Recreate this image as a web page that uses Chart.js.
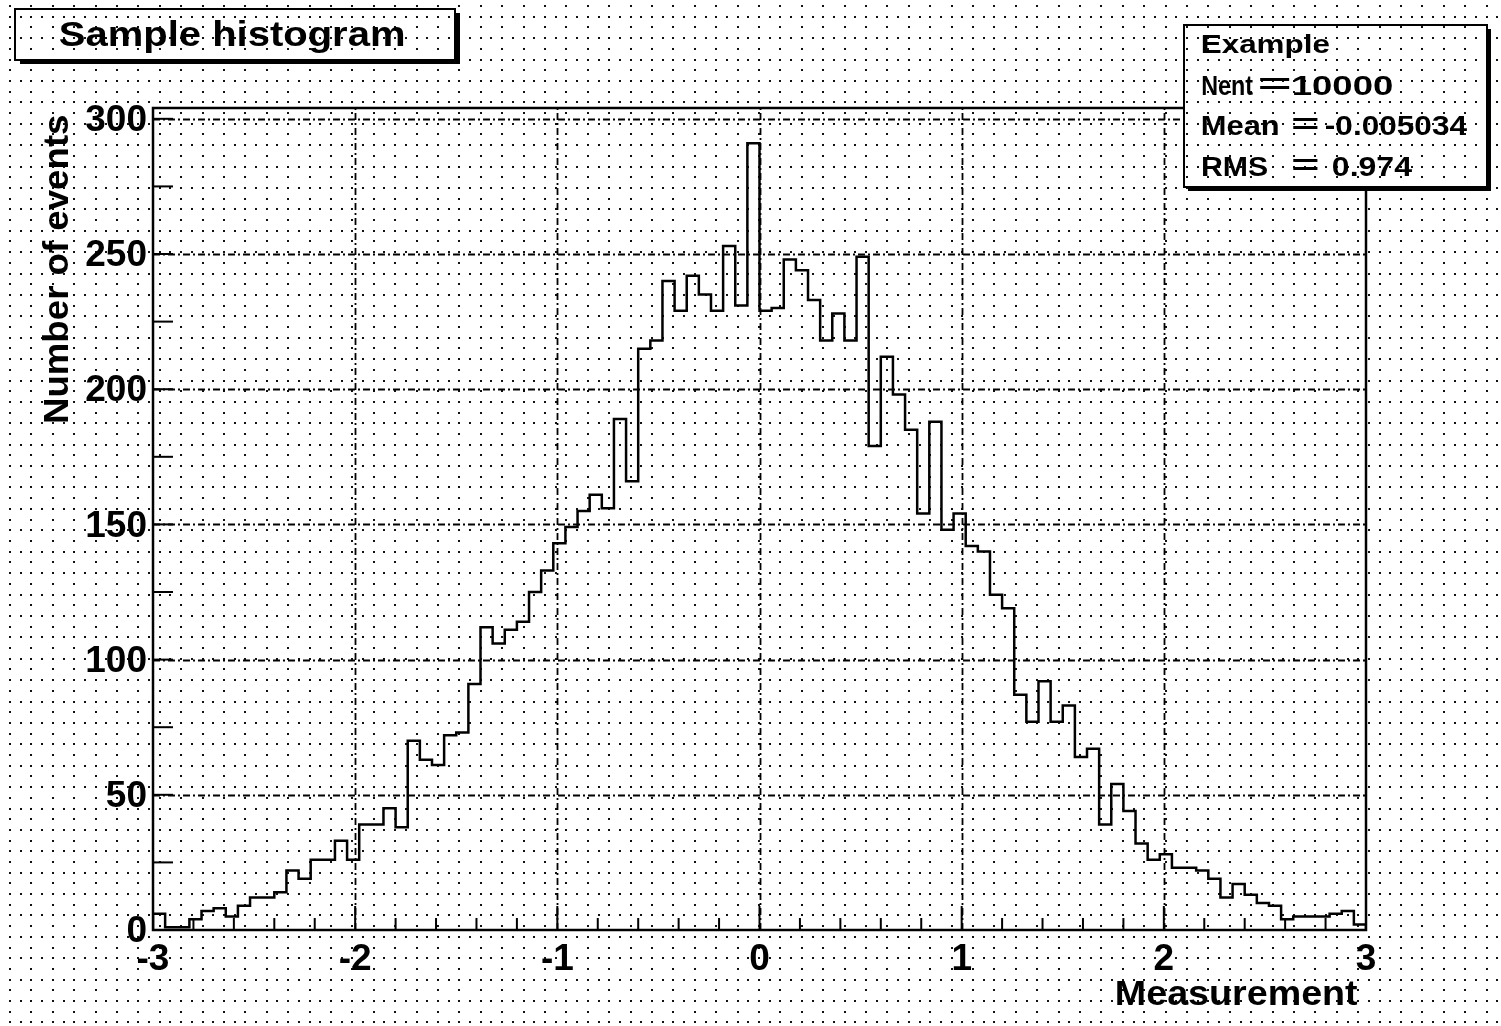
<!DOCTYPE html>
<html>
<head>
<meta charset="utf-8">
<title>Sample histogram</title>
<script src="https://cdn.jsdelivr.net/npm/chart.js@4/dist/chart.umd.min.js"></script>
<style>
  html, body { margin: 0; padding: 0; background: #fff; }
  #wrap { width: 1501px; height: 1026px; }
</style>
</head>
<body>
<div id="wrap"><canvas id="hist" width="1501" height="1026"></canvas></div>
<script>
// histogram binning
const x_min = -3;
const x_max = 3;
const n_bins = 100;

// bin contents (left to right)
const counts = [
  6, 1, 1, 4, 7, 8, 5, 9, 12, 12,
  14, 22, 19, 26, 26, 33, 26, 39, 39, 45,
  38, 70, 63, 61, 72, 73, 91, 112, 106, 111,
  114, 125, 133, 143, 149, 155, 161, 156, 189, 166,
  215, 218, 240, 229, 242, 235, 229, 253, 231, 291,
  229, 230, 248, 244, 233, 218, 228, 218, 249, 179,
  212, 198, 185, 154, 188, 148, 154, 142, 140, 124,
  119, 87, 77, 92, 77, 83, 64, 67, 39, 54,
  44, 32, 26, 28, 23, 23, 22, 19, 12, 17,
  13, 10, 9, 4, 5, 5, 5, 6, 7, 2
];

const y_max = 304;
const x_major = [-2, -1, 0, 1, 2];
const y_major = [50, 100, 150, 200, 250, 300];

const hist_title = 'Sample histogram';
const x_title = 'Measurement';
const y_title = 'Number of events';
const stats_name = 'Example';
const stats_labels = ['Nent', 'Mean', 'RMS'];
const stats_values = ['10000', '-0.005034', '0.974'];

const FONT = '"Liberation Sans", Arial, Helvetica, sans-serif';

// points at the low edge of each bin, stepped line makes the outline
const bin_width = (x_max - x_min) / n_bins;
const points = [{x: x_min, y: 0}];
counts.forEach((c, i) => points.push({x: x_min + i * bin_width, y: c}));
points.push({x: x_max, y: 0});

// the dotted pad fill
function drawDots(ctx, x0, y0, x1, y1) {
  const step = 10.7;
  ctx.fillStyle = '#111';
  for (let r = 0; ; r++) {
    const y = 6 + r * step;
    if (y > y1) break;
    if (y < y0) continue;
    const dx = (r % 2 === 0) ? step * 2 : step;
    for (let x = 10; x <= x1; x += dx) {
      if (x < x0) continue;
      ctx.fillRect(Math.round(x) - 1, Math.round(y) - 1, 2, 2);
    }
  }
}

function fitText(ctx, text, x, y, width, size) {
  ctx.save();
  ctx.font = 'bold ' + size + 'px ' + FONT;
  ctx.textBaseline = 'alphabetic';
  ctx.textAlign = 'left';
  const m = ctx.measureText(text);
  const ink = m.actualBoundingBoxLeft + m.actualBoundingBoxRight;
  ctx.translate(x, y);
  ctx.scale(width / ink, 1);
  ctx.fillStyle = '#000';
  ctx.fillText(text, m.actualBoundingBoxLeft, 0);
  ctx.restore();
}

function drawBox(ctx, x, y, w, h, sx, sy) {
  ctx.fillStyle = '#000';
  ctx.fillRect(x + sx, y + sy, w, h);
  ctx.fillStyle = '#fff';
  ctx.fillRect(x, y, w, h);
  drawDots(ctx, x, y, x + w, y + h);
  ctx.strokeStyle = '#000';
  ctx.lineWidth = 2;
  ctx.strokeRect(x, y, w, h);
}

const rootPad = {
  id: 'rootPad',
  beforeDraw(chart) {
    const ctx = chart.ctx;
    ctx.save();
    ctx.fillStyle = '#fff';
    ctx.fillRect(0, 0, chart.width, chart.height);
    drawDots(ctx, 0, 0, chart.width, chart.height);
    ctx.restore();
  },
  beforeDatasetsDraw(chart) {
    const ctx = chart.ctx;
    const a = chart.chartArea;
    const xs = chart.scales.x, ys = chart.scales.y;
    ctx.save();
    ctx.strokeStyle = '#000';
    ctx.lineWidth = 1.8;
    ctx.setLineDash([7, 3, 2, 3]);
    x_major.forEach(v => {
      const px = Math.round(xs.getPixelForValue(v)) + 0.5;
      ctx.beginPath(); ctx.moveTo(px, a.bottom); ctx.lineTo(px, a.top); ctx.stroke();
    });
    y_major.forEach(v => {
      const py = Math.round(ys.getPixelForValue(v)) + 0.5;
      ctx.beginPath(); ctx.moveTo(a.left, py); ctx.lineTo(a.right, py); ctx.stroke();
    });
    ctx.restore();
  },
  afterDatasetsDraw(chart) {
    const ctx = chart.ctx;
    const a = chart.chartArea;
    const xs = chart.scales.x, ys = chart.scales.y;
    ctx.save();
    ctx.strokeStyle = '#000';
    ctx.lineWidth = 2;
    // inward ticks
    for (let k = 0; k <= 30; k++) {
      const px = xs.getPixelForValue(x_min + k * 0.2);
      const len = (k % 5 === 0) ? 24 : 12;
      ctx.beginPath(); ctx.moveTo(px, a.bottom); ctx.lineTo(px, a.bottom - len); ctx.stroke();
    }
    for (let v = 0; v <= 300; v += 25) {
      const py = ys.getPixelForValue(v);
      ctx.beginPath(); ctx.moveTo(a.left, py); ctx.lineTo(a.left + 20, py); ctx.stroke();
    }
    // frame
    ctx.lineWidth = 2.5;
    ctx.strokeRect(a.left, a.top, a.right - a.left, a.bottom - a.top);
    ctx.restore();
  },
  afterDraw(chart) {
    const ctx = chart.ctx;
    ctx.save();
    // title box
    drawBox(ctx, 15, 9, 440, 51, 5, 4);
    fitText(ctx, hist_title, 60, 46, 343, 35);

    // stats box
    drawBox(ctx, 1184, 25, 303, 162, 4, 4);
    fitText(ctx, stats_name, 1202, 53, 128, 25);
    fitText(ctx, stats_labels[0], 1202, 95, 51, 27);
    fitText(ctx, '=', 1260, 93, 30, 27);
    fitText(ctx, stats_values[0], 1293, 95, 99, 27);
    fitText(ctx, stats_labels[1], 1202, 135, 76, 27);
    fitText(ctx, '=', 1293, 133, 25, 27);
    fitText(ctx, stats_values[1], 1326, 135, 141, 27);
    fitText(ctx, stats_labels[2], 1202, 176, 65, 27);
    fitText(ctx, '=', 1293, 174, 25, 27);
    fitText(ctx, stats_values[2], 1333, 176, 79, 27);

    // axis titles
    fitText(ctx, x_title, 1117, 1005, 241, 35);
    ctx.translate(68, 422);
    ctx.rotate(-Math.PI / 2);
    fitText(ctx, y_title, 0, 0, 307, 35);
    ctx.restore();
  }
};

const tickFont = {family: FONT, size: 37, weight: 'bold'};

new Chart(document.getElementById('hist').getContext('2d'), {
  type: 'line',
  data: {
    datasets: [{
      data: points,
      stepped: 'before',
      borderColor: '#000',
      borderWidth: 2.5,
      pointRadius: 0,
      fill: false,
      tension: 0
    }]
  },
  options: {
    responsive: false,
    animation: false,
    devicePixelRatio: 1,
    parsing: false,
    layout: {padding: {left: 0, top: 108, right: 135, bottom: 0}},
    plugins: {legend: {display: false}, tooltip: {enabled: false}},
    scales: {
      x: {
        type: 'linear', min: x_min, max: x_max,
        grid: {display: false, drawTicks: false},
        border: {display: false},
        ticks: {stepSize: 1, font: tickFont, color: '#000', padding: 8, maxRotation: 0, autoSkip: false},
        afterFit(s) { s.height = 96; }
      },
      y: {
        type: 'linear', min: 0, max: y_max,
        grid: {display: false, drawTicks: false},
        border: {display: false},
        ticks: {stepSize: 50, includeBounds: false, font: tickFont, color: '#000', padding: 6, labelOffset: 2},
        afterFit(s) { s.height; s.width = 153; }
      }
    }
  },
  plugins: [rootPad]
});
</script>
</body>
</html>
